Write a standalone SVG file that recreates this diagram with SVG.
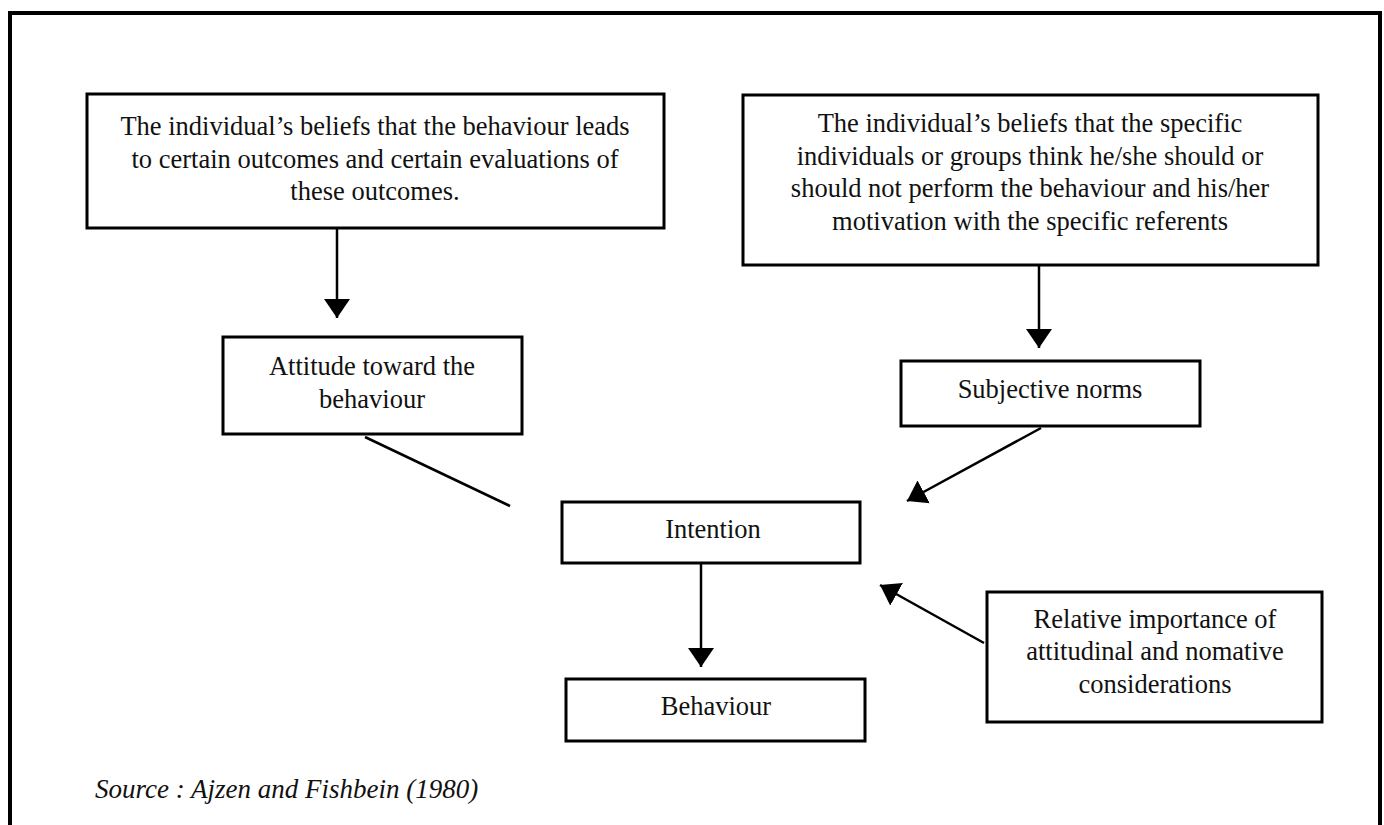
<svg xmlns="http://www.w3.org/2000/svg" width="1384" height="825" viewBox="0 0 1384 825">
<style>
.box{fill:#fff;stroke:#000;stroke-width:3}
.t{font-family:"Liberation Serif","Times New Roman",serif;font-size:26.5px;fill:#111;text-anchor:middle}
.src{font-family:"Liberation Serif","Times New Roman",serif;font-size:27px;font-style:italic;fill:#111}
.c{stroke:#000;stroke-width:2.5;fill:none}
.frame{stroke:#000;stroke-width:4;fill:none}
</style>
<defs>
<marker id="ah" markerUnits="userSpaceOnUse" markerWidth="20" markerHeight="26" refX="19" refY="13" orient="auto">
<path d="M0,0 L19,13 L0,26 Z" fill="#000"/>
</marker>
</defs>
<rect width="1384" height="825" fill="#fff"/>
<g id="frame">
<path class="frame" d="M10,825 L10,13 L1380,13 L1380,825"/>
</g>
<g id="connectors">
<line class="c" x1="337" y1="228" x2="337" y2="318" marker-end="url(#ah)"/>
<line class="c" x1="1039" y1="265" x2="1039" y2="348" marker-end="url(#ah)"/>
<line class="c" x1="365" y1="437" x2="510" y2="506"/>
<line class="c" x1="1041" y1="428" x2="907" y2="501" marker-end="url(#ah)"/>
<line class="c" x1="701" y1="563" x2="701" y2="667" marker-end="url(#ah)"/>
<line class="c" x1="984" y1="643" x2="880" y2="585" marker-end="url(#ah)"/>
</g>
<g id="beliefs-outcomes">
<rect class="box" x="87" y="94" width="577" height="134"/>
<text class="t" x="375" y="135">The individual’s beliefs that the behaviour leads</text>
<text class="t" x="375" y="168">to certain outcomes and certain evaluations of</text>
<text class="t" x="375" y="200">these  outcomes.</text>
</g>
<g id="beliefs-referents">
<rect class="box" x="743" y="95" width="575" height="170"/>
<text class="t" x="1030" y="132">The individual’s beliefs that the specific</text>
<text class="t" x="1030" y="165">individuals or groups think he/she should or</text>
<text class="t" x="1030" y="197">should not perform the behaviour and his/her</text>
<text class="t" x="1030" y="230">motivation with the specific referents</text>
</g>
<g id="attitude">
<rect class="box" x="223" y="337" width="299" height="97"/>
<text class="t" x="372" y="375">Attitude toward the</text>
<text class="t" x="372" y="408">behaviour</text>
</g>
<g id="subjective-norms">
<rect class="box" x="901" y="361" width="299" height="65"/>
<text class="t" x="1050" y="398">Subjective norms</text>
</g>
<g id="intention">
<rect class="box" x="562" y="502" width="298" height="61"/>
<text class="t" x="713" y="538">Intention</text>
</g>
<g id="behaviour">
<rect class="box" x="566" y="679" width="299" height="62"/>
<text class="t" x="716" y="715">Behaviour</text>
</g>
<g id="relative-importance">
<rect class="box" x="987" y="592" width="335" height="130"/>
<text class="t" x="1155" y="628">Relative importance of</text>
<text class="t" x="1155" y="660">attitudinal and nomative</text>
<text class="t" x="1155" y="693">considerations</text>
</g>
<g id="source">
<text class="src" x="95" y="798">Source : Ajzen and Fishbein (1980)</text>
</g>
</svg>
